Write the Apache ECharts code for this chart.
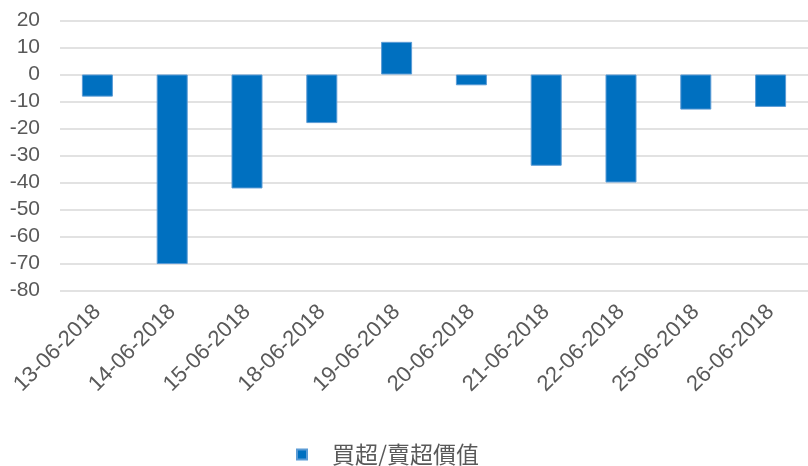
<!DOCTYPE html>
<html>
<head>
<meta charset="utf-8">
<script src="https://cdn.jsdelivr.net/npm/echarts@6/dist/echarts.min.js"></script>
<style>
html,body{margin:0;padding:0;background:#fff;}
#c{width:808px;height:466px;}
</style>
</head>
<body>
<div id="c"></div>
<script>
const categories = ['13-06-2018','14-06-2018','15-06-2018','18-06-2018','19-06-2018','20-06-2018','21-06-2018','22-06-2018','25-06-2018','26-06-2018'];
const seriesName = '買超/賣超價值';
const values = [-8.2, -70.2, -42.2, -18, 12.1, -4, -33.8, -40, -13, -12];
const yMin = -80, yMax = 20, yStep = 10;

const chart = echarts.init(document.getElementById('c'));
chart.setOption({
  animation: false,
  backgroundColor: '#fff',
  grid: {left: 60, right: 0, top: 20.5, bottom: 175.5, containLabel: false},
  legend: {
    top: 438, left: 291,
    itemWidth: 10, itemHeight: 10, itemGap: 10,
    icon: 'rect',
    textStyle: {fontFamily: '"Noto Sans CJK TC", "Liberation Sans", sans-serif', fontSize: 23, color: '#595959', padding: [0,0,0,20]},
    data: [seriesName]
  },
  xAxis: {
    type: 'category',
    data: categories,
    axisLine: {show: false},
    axisTick: {show: false},
    axisLabel: {rotate: 45, interval: 0, margin: 18, fontFamily: '"Liberation Sans", Arial, sans-serif', fontSize: 22, color: '#595959'}
  },
  yAxis: {
    type: 'value',
    min: yMin, max: yMax, interval: yStep,
    axisLine: {show: false},
    axisTick: {show: false},
    splitLine: {lineStyle: {color: '#D9D9D9', width: 1.5}},
    axisLabel: {margin: 20, fontFamily: '"Liberation Sans", Arial, sans-serif', fontSize: 21, color: '#595959'}
  },
  series: [{
    name: seriesName,
    type: 'bar',
    data: values,
    barWidth: 31,
    itemStyle: {color: '#0070C0', borderColor: '#5B9BD5', borderWidth: 1}
  }]
});
</script>
</body>
</html>
